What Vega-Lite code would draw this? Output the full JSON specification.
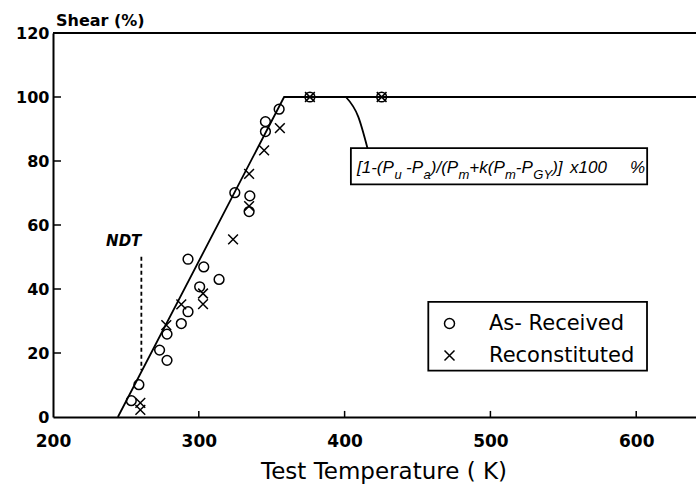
{
  "$schema": "https://vega.github.io/schema/vega-lite/v6.json",
  "width": 643,
  "height": 384,
  "autosize": {"type": "none"},
  "padding": {"left": 53, "top": 33, "right": 0, "bottom": 69},
  "background": "white",
  "view": {"stroke": null},
  "datasets": {
    "points": [
      {"T": 253.7, "S": 5.1, "series": "As- Received"},
      {"T": 258.9, "S": 10.1, "series": "As- Received"},
      {"T": 273.1, "S": 20.9, "series": "As- Received"},
      {"T": 278.2, "S": 17.7, "series": "As- Received"},
      {"T": 278.2, "S": 25.9, "series": "As- Received"},
      {"T": 288.0, "S": 29.2, "series": "As- Received"},
      {"T": 292.6, "S": 32.9, "series": "As- Received"},
      {"T": 300.6, "S": 40.7, "series": "As- Received"},
      {"T": 313.9, "S": 43.0, "series": "As- Received"},
      {"T": 303.4, "S": 46.9, "series": "As- Received"},
      {"T": 292.6, "S": 49.3, "series": "As- Received"},
      {"T": 334.5, "S": 64.2, "series": "As- Received"},
      {"T": 335.0, "S": 69.1, "series": "As- Received"},
      {"T": 324.7, "S": 70.1, "series": "As- Received"},
      {"T": 345.7, "S": 89.2, "series": "As- Received"},
      {"T": 345.7, "S": 92.3, "series": "As- Received"},
      {"T": 355.1, "S": 96.2, "series": "As- Received"},
      {"T": 376.2, "S": 100, "series": "As- Received"},
      {"T": 425.4, "S": 100, "series": "As- Received"},
      {"T": 259.9, "S": 4.4, "series": "Reconstituted"},
      {"T": 259.9, "S": 2.2, "series": "Reconstituted"},
      {"T": 277.7, "S": 28.7, "series": "Reconstituted"},
      {"T": 288.0, "S": 35.2, "series": "Reconstituted"},
      {"T": 302.9, "S": 38.6, "series": "Reconstituted"},
      {"T": 302.9, "S": 35.3, "series": "Reconstituted"},
      {"T": 323.5, "S": 55.5, "series": "Reconstituted"},
      {"T": 334.5, "S": 65.9, "series": "Reconstituted"},
      {"T": 334.5, "S": 76.0, "series": "Reconstituted"},
      {"T": 344.8, "S": 83.3, "series": "Reconstituted"},
      {"T": 355.6, "S": 90.3, "series": "Reconstituted"},
      {"T": 376.2, "S": 100, "series": "Reconstituted"},
      {"T": 425.4, "S": 100, "series": "Reconstituted"}
    ],
    "fit": [
      {"T": 244.5, "S": 0},
      {"T": 358.5, "S": 100},
      {"T": 641, "S": 100}
    ],
    "ndt": [
      {"T": 260.6, "S": 50.1},
      {"T": 260.6, "S": 14.6}
    ],
    "leader": [
      {"T": 400.9, "S": 100},
      {"T": 409.4, "S": 93.8},
      {"T": 415.7, "S": 84}
    ],
    "frame": [{"T": 200, "T2": 641, "S": 120}],
    "xticks": [
      {"T": 300, "S": 0, "S2": 1.9},
      {"T": 400, "S": 0, "S2": 1.9},
      {"T": 500, "S": 0, "S2": 1.9},
      {"T": 600, "S": 0, "S2": 1.9}
    ],
    "yticks": [
      {"T": 200, "T2": 205.5, "S": 20},
      {"T": 200, "T2": 205.5, "S": 40},
      {"T": 200, "T2": 205.5, "S": 60},
      {"T": 200, "T2": 205.5, "S": 80},
      {"T": 200, "T2": 205.5, "S": 100}
    ],
    "formulaBox": [{"T": 404.3, "T2": 607.5, "S": 84.0, "S2": 72.7}],
    "legendBox": [{"T": 457.4, "T2": 607.4, "S": 36.0, "S2": 14.5}],
    "formulaMain": [
      {"T": 408.5, "S": 76.16, "txt": "[1-(P"},
      {"T": 442.11, "S": 76.16, "txt": "-P"},
      {"T": 459.12, "S": 76.16, "txt": ")/(P"},
      {"T": 485.52, "S": 76.16, "txt": "+k(P"},
      {"T": 517.41, "S": 76.16, "txt": "-P"},
      {"T": 542.38, "S": 76.16, "txt": ")]"},
      {"T": 554.58, "S": 76.16, "txt": "x100"},
      {"T": 595.73, "S": 76.16, "txt": "%"}
    ],
    "formulaSub": [
      {"T": 434.22, "S": 74.28, "txt": "u"},
      {"T": 454.11, "S": 74.28, "txt": "a"},
      {"T": 478.11, "S": 74.28, "txt": "m"},
      {"T": 510.0, "S": 74.28, "txt": "m"},
      {"T": 529.41, "S": 74.28, "txt": "GY"}
    ],
    "ndtLabel": [{"T": 248.5, "S": 53.4, "txt": "NDT"}]
  },
  "encoding": {
    "x": {
      "field": "T", "type": "quantitative",
      "scale": {"domain": [200, 641], "nice": false, "zero": false},
      "axis": {
        "values": [200, 300, 400, 500, 600],
        "grid": false, "ticks": false,
        "domainWidth": 2, "domainColor": "black",
        "labelFont": "DejaVu Sans", "labelFontWeight": "bold", "labelFontSize": 17,
        "labelColor": "black", "labelPadding": 16, "labelFlush": false, "labelOverlap": false,
        "title": "Test Temperature ( K)",
        "titleFont": "DejaVu Sans", "titleFontWeight": "normal", "titleFontSize": 23,
        "titleColor": "black", "titleX": 330.5, "titleY": 61,
        "titleAlign": "center", "titleBaseline": "alphabetic"
      }
    },
    "y": {
      "field": "S", "type": "quantitative",
      "scale": {"domain": [0, 120], "nice": false, "zero": false},
      "axis": {
        "values": [0, 20, 40, 60, 80, 100, 120],
        "grid": false, "ticks": false,
        "domainWidth": 2, "domainColor": "black",
        "labelFont": "DejaVu Sans", "labelFontWeight": "bold", "labelFontSize": 16,
        "labelColor": "black", "labelPadding": 4, "labelFlush": false, "labelOverlap": false,
        "title": "Shear (%)",
        "titleFont": "DejaVu Sans", "titleFontWeight": "bold", "titleFontSize": 16,
        "titleColor": "black", "titleAngle": 0, "titleX": 2.5, "titleY": -8,
        "titleAlign": "left", "titleBaseline": "alphabetic"
      }
    }
  },
  "layer": [
    {
      "data": {"name": "frame"},
      "mark": {"type": "rule", "color": "black", "strokeWidth": 2},
      "encoding": {"x2": {"field": "T2"}}
    },
    {
      "data": {"name": "xticks"},
      "mark": {"type": "rule", "color": "black", "strokeWidth": 1.5},
      "encoding": {"y2": {"field": "S2"}}
    },
    {
      "data": {"name": "yticks"},
      "mark": {"type": "rule", "color": "black", "strokeWidth": 1.5},
      "encoding": {"x2": {"field": "T2"}}
    },
    {
      "data": {"name": "fit"},
      "mark": {"type": "line", "color": "black", "strokeWidth": 1.8}
    },
    {
      "data": {"name": "ndt"},
      "mark": {"type": "line", "color": "black", "strokeWidth": 1.8, "strokeDash": [4, 3]}
    },
    {
      "data": {"name": "ndtLabel"},
      "mark": {"type": "text", "font": "DejaVu Sans", "fontSize": 15, "fontWeight": "bold", "fontStyle": "italic", "align": "center", "baseline": "alphabetic", "color": "black"},
      "encoding": {"text": {"field": "txt"}}
    },
    {
      "data": {"name": "leader"},
      "mark": {"type": "line", "color": "black", "strokeWidth": 1.8, "interpolate": "monotone"}
    },
    {
      "data": {"name": "formulaBox"},
      "mark": {"type": "rect", "fill": "white", "stroke": "black", "strokeWidth": 1.8},
      "encoding": {"x2": {"field": "T2"}, "y2": {"field": "S2"}}
    },
    {
      "data": {"name": "formulaMain"},
      "mark": {"type": "text", "font": "Liberation Sans", "fontSize": 17, "fontStyle": "italic", "align": "left", "baseline": "alphabetic", "color": "black"},
      "encoding": {"text": {"field": "txt"}}
    },
    {
      "data": {"name": "formulaSub"},
      "mark": {"type": "text", "font": "Liberation Sans", "fontSize": 13, "fontStyle": "italic", "align": "left", "baseline": "alphabetic", "color": "black"},
      "encoding": {"text": {"field": "txt"}}
    },
    {
      "data": {"name": "legendBox"},
      "mark": {"type": "rect", "fill": null, "fillOpacity": 0, "stroke": "black", "strokeWidth": 1.8},
      "encoding": {"x2": {"field": "T2"}, "y2": {"field": "S2"}}
    },
    {
      "data": {"name": "points"},
      "mark": {"type": "point", "filled": false, "color": "black", "strokeWidth": 1.5, "size": 95, "opacity": 1},
      "encoding": {
        "shape": {
          "field": "series", "type": "nominal",
          "scale": {"domain": ["As- Received", "Reconstituted"], "range": ["circle", "M-1,-1L1,1M-1,1L1,-1"]},
          "legend": {
            "title": null, "orient": "none", "legendX": 386, "legendY": 280,
            "padding": 0, "strokeColor": null,
            "labelFont": "DejaVu Sans", "labelFontSize": 21, "labelFontWeight": "normal", "labelColor": "black",
            "labelOffset": 29, "rowPadding": 10,
            "symbolSize": 100, "symbolStrokeWidth": 1.5, "symbolStrokeColor": "black", "symbolFillColor": "transparent"
          }
        }
      }
    }
  ]
}
